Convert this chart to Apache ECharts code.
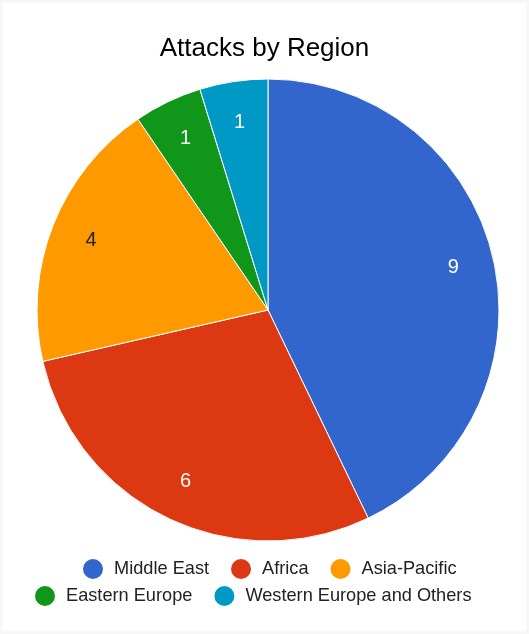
<!DOCTYPE html>
<html>
<head>
<meta charset="utf-8">
<script src="https://cdn.jsdelivr.net/npm/echarts@6/dist/echarts.min.js"></script>
<style>
html,body{margin:0;padding:0;background:#fff;}
#wrap{position:relative;width:529px;height:634px;}
#chart{position:absolute;left:0;top:0;width:529px;height:634px;}
#frame{position:absolute;left:0;top:0;width:529px;height:634px;box-sizing:border-box;border:3px solid #f7f7f7;pointer-events:none;}
</style>
</head>
<body>
<div id="wrap"><div id="chart"></div><div id="frame"></div></div>
<script>
const titleText = 'Attacks by Region';
const categories = ['Middle East', 'Africa', 'Asia-Pacific', 'Eastern Europe', 'Western Europe and Others'];
const values = [9, 6, 4, 1, 1];
const colors = ['#3366cc', '#dc3912', '#ff9900', '#109618', '#0099c6'];
const labelColors = ['#ffffff', '#ffffff', '#222222', '#ffffff', '#ffffff'];
const legendRow1 = ['Middle East', 'Africa', 'Asia-Pacific'];
const legendRow2 = ['Eastern Europe', 'Western Europe and Others'];

const font = '"Liberation Sans", Arial, sans-serif';
const R = 231;
const data = categories.map((c, i) => ({ name: c, value: values[i], itemStyle: { color: colors[i] } }));
const labelData = categories.map((c, i) => ({
  name: c, value: values[i],
  itemStyle: { color: 'rgba(0,0,0,0)', borderWidth: 0 },
  label: { color: labelColors[i] }
}));

const legendCommon = {
  orient: 'horizontal',
  icon: 'circle',
  itemWidth: 22,
  itemHeight: 22,
  itemGap: 20,
  selectedMode: false,
  textStyle: { fontFamily: font, fontSize: 18.2, color: '#222', padding: [0, 0, 0, 5] }
};

const chart = echarts.init(document.getElementById('chart'), null, { renderer: 'canvas' });
chart.setOption({
  backgroundColor: '#ffffff',
  animation: false,
  title: {
    text: titleText,
    left: 'center',
    top: 31,
    textStyle: { fontFamily: font, fontSize: 26, fontWeight: 'normal', color: '#000' }
  },
  legend: [
    Object.assign({ data: legendRow1, left: 76, top: 552 }, legendCommon),
    Object.assign({ data: legendRow2, left: 28, top: 579 }, legendCommon)
  ],
  series: [
    {
      type: 'pie',
      center: [268, 310],
      radius: [0, R],
      startAngle: 90,
      clockwise: true,
      silent: true,
      label: { show: false },
      labelLine: { show: false },
      itemStyle: { borderColor: '#ffffff', borderWidth: 1 },
      data: data
    },
    {
      type: 'pie',
      center: [268, 310],
      radius: [R * 0.62, R],
      startAngle: 90,
      clockwise: true,
      silent: true,
      label: { show: true, position: 'inside', formatter: '{c}', fontFamily: font, fontSize: 20 },
      labelLine: { show: false },
      data: labelData
    }
  ]
});
</script>
</body>
</html>
